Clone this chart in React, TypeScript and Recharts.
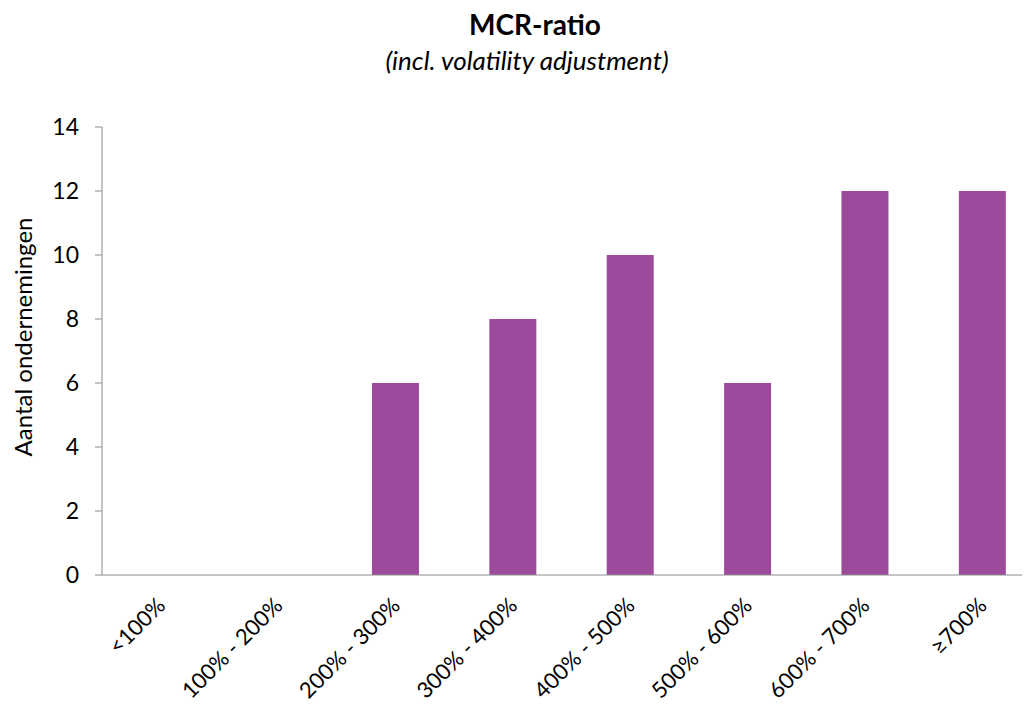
import React from "react";
import { BarChart, Bar, XAxis, YAxis } from "recharts";

const categories = [
  "<100%",
  "100% - 200%",
  "200% - 300%",
  "300% - 400%",
  "400% - 500%",
  "500% - 600%",
  "600% - 700%",
  "≥700%",
];
const counts = [0, 0, 6, 8, 10, 6, 12, 12];
const yTicks = [0, 2, 4, 6, 8, 10, 12, 14];
const boundaryTicks = [0, 1, 2, 3, 4, 5, 6, 7, 8];

const data = categories.map((name, i) => ({ name, count: counts[i] }));

const FONT = "Lato, 'Open Sans', sans-serif";
const AXIS_COLOR = "#8c8c8c";
const BAR_COLOR = "#9e4a9c";

const CategoryTick = (props: any) => {
  const { x, y, payload } = props;
  const ax = x + 6;
  const ay = y + 24;
  return (
    <text
      x={ax}
      y={ay}
      transform={`rotate(-45, ${ax}, ${ay})`}
      textAnchor="end"
      fontSize={22}
      fontFamily={FONT}
      fill="#000"
    >
      {payload.value}
    </text>
  );
};

const EmptyTick = () => <g />;

export default function App() {
  return (
    <div
      style={{
        position: "relative",
        width: 1022,
        height: 696,
        overflow: "hidden",
        fontFamily: FONT,
        background: "#fff",
      }}
    >
      <div
        style={{
          position: "absolute",
          left: 527,
          top: 1,
          transform: "translateX(-50%)",
          whiteSpace: "nowrap",
          fontWeight: 700,
          fontSize: 28,
          lineHeight: "30px",
          color: "#000",
        }}
      >
        MCR-ratio
      </div>
      <div
        style={{
          position: "absolute",
          left: 519,
          top: 37,
          transform: "translateX(-50%)",
          whiteSpace: "nowrap",
          fontStyle: "italic",
          fontSize: 26,
          lineHeight: "30px",
          color: "#000",
        }}
      >
        (incl. volatility adjustment)
      </div>
      <div
        style={{
          position: "absolute",
          left: 14,
          top: 329,
          transform: "translate(-50%, -50%) rotate(-90deg)",
          whiteSpace: "nowrap",
          fontSize: 24,
          color: "#000",
        }}
      >
        Aantal ondernemingen
      </div>
      <BarChart
        width={1040}
        height={696}
        data={data}
        margin={{ top: 119, right: 7, bottom: 9, left: 0 }}
        barCategoryGap="30%"
        style={{ position: "absolute", left: 0, top: 0 }}
      >
        <XAxis
          xAxisId="bounds"
          type="number"
          domain={[0, 8]}
          ticks={boundaryTicks}
          allowDataOverflow
          height={0}
          axisLine={false}
          tickLine={{ stroke: AXIS_COLOR }}
          tickSize={8}
          tick={<EmptyTick />}
        />
        <XAxis
          xAxisId="cat"
          dataKey="name"
          type="category"
          height={120}
          interval={0}
          axisLine={{ stroke: AXIS_COLOR }}
          tickLine={false}
          tick={<CategoryTick />}
        />
        <YAxis
          width={94}
          domain={[0, 14]}
          ticks={yTicks}
          interval={0}
          axisLine={{ stroke: AXIS_COLOR }}
          tickLine={{ stroke: AXIS_COLOR }}
          tickSize={7}
          tickMargin={16}
          tick={{ fontSize: 23, fill: "#000", fontFamily: FONT }}
        />
        <Bar
          xAxisId="cat"
          dataKey="count"
          fill={BAR_COLOR}
          isAnimationActive={false}
        />
      </BarChart>
    </div>
  );
}
